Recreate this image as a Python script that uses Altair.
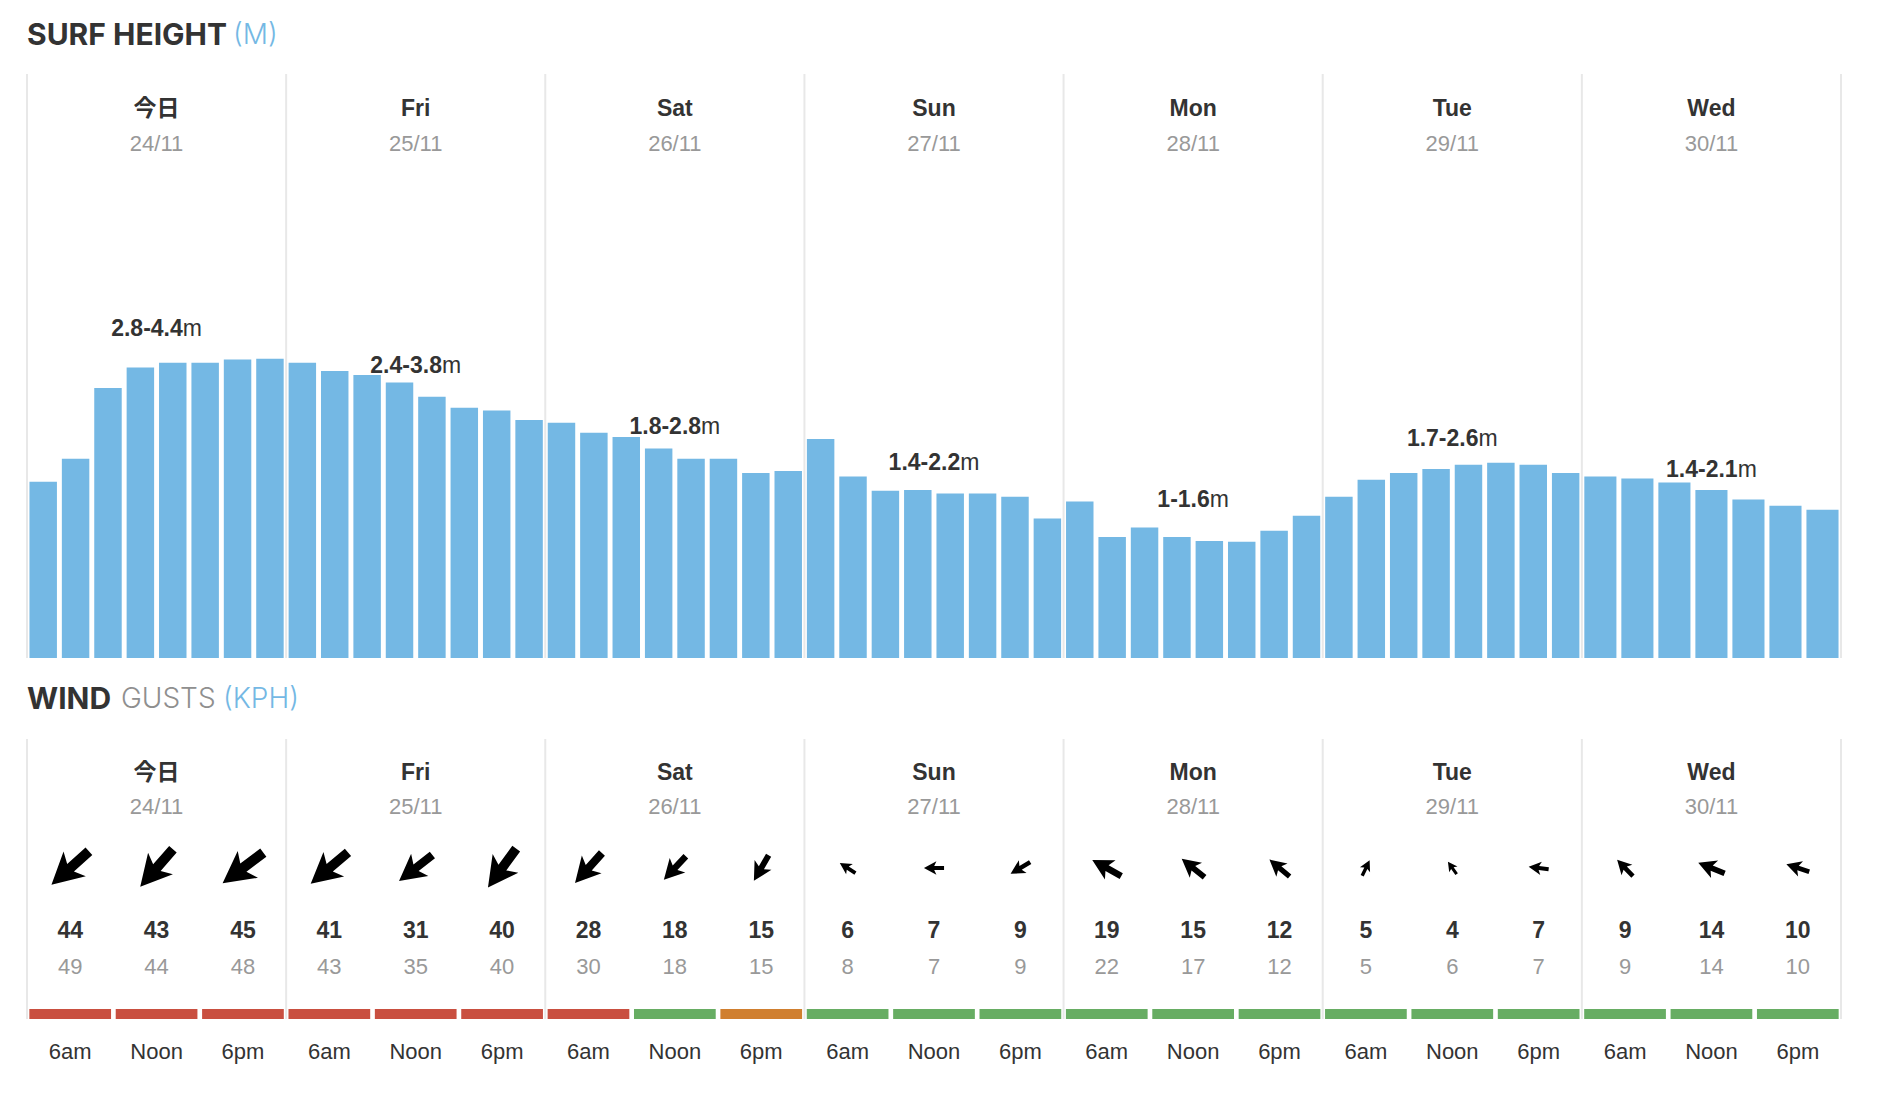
import altair as alt
import pandas as pd

# ---------------- data ----------------
days = ["今日", "Fri", "Sat", "Sun", "Mon", "Tue", "Wed"]
dates = ["24/11", "25/11", "26/11", "27/11", "28/11", "29/11", "30/11"]

# surf height bars (m), 3-hourly, per day
surf_today = [2.59, 2.93, 3.97, 4.27, 4.34, 4.34, 4.39, 4.40]
surf_fri = [4.34, 4.22, 4.16, 4.05, 3.84, 3.68, 3.64, 3.50]
surf_sat = [3.46, 3.31, 3.25, 3.08, 2.93, 2.93, 2.72, 2.75]
surf_sun = [3.22, 2.67, 2.46, 2.47, 2.42, 2.42, 2.37, 2.05]
surf_mon = [2.30, 1.78, 1.92, 1.78, 1.72, 1.71, 1.87, 2.09]
surf_tue = [2.37, 2.62, 2.72, 2.78, 2.84, 2.87, 2.84, 2.72]
surf_wed = [2.67, 2.64, 2.58, 2.47, 2.33, 2.24, 2.18]
surf = [surf_today, surf_fri, surf_sat, surf_sun, surf_mon, surf_tue, surf_wed]

range_lo = [2.8, 2.4, 1.8, 1.4, 1.0, 1.7, 1.4]
range_hi = [4.4, 3.8, 2.8, 2.2, 1.6, 2.6, 2.1]

times = ["6am", "Noon", "6pm"]
wind_speed = [[44, 43, 45], [41, 31, 40], [28, 18, 15], [6, 7, 9],
              [19, 15, 12], [5, 4, 7], [9, 14, 10]]
wind_gust = [[49, 44, 48], [43, 35, 40], [30, 18, 15], [8, 7, 9],
             [22, 17, 12], [5, 6, 7], [9, 14, 10]]
# direction the arrow points to (degrees clockwise from north)
wind_dir = [[228, 221, 233], [230, 232, 216], [222, 223, 210], [303, 270, 239],
            [299, 309, 310], [26, 325, 277], [316, 292, 288]]
wind_rating = [["poor", "poor", "poor"], ["poor", "poor", "poor"],
               ["poor", "good", "fair"], ["good", "good", "good"],
               ["good", "good", "good"], ["good", "good", "good"],
               ["good", "good", "good"]]

# ---------------- tables ----------------
DAYW = 1814 / 7.0
LFS = 23
bar_rows = []
for d, vals in enumerate(surf):
    n = len(vals)
    for k, v in enumerate(vals):
        bar_rows.append({"day": d, "slot": k, "n": n, "h": v})
bars_df = pd.DataFrame(bar_rows)

def fmt(v):
    return f"{v:g}"

lab_rows = []
for d in range(7):
    s = fmt(range_lo[d]) + "-" + fmt(range_hi[d])
    nd = sum(c.isdigit() for c in s)
    ndot = s.count(".")
    wb = LFS * (0.556 * nd + 0.278 * ndot + 0.333)
    wm = LFS * 0.833
    lab_rows.append({"day": d, "rng": s, "hi": range_hi[d],
                     "off": (wb - wm) / 2.0 / DAYW})
lab_df = pd.DataFrame(lab_rows)

day_df = pd.DataFrame({"day": list(range(7)), "name": days, "date": dates})
sep_df = pd.DataFrame({"sep": list(range(8))})

wind_rows = []
for d in range(7):
    for k in range(3):
        wind_rows.append({"day": d, "slot": k, "time": times[k],
                          "speed": wind_speed[d][k], "gust": wind_gust[d][k],
                          "dir": wind_dir[d][k], "rating": wind_rating[d][k]})
wind_df = pd.DataFrame(wind_rows)

# ---------------- styles ----------------
DARK = "#333333"
GRAY = "#999999"
BLUE = "#74b8e4"
SEP = "#e8e8e8"
FONT = "Liberation Sans, Noto Sans CJK JP, sans-serif"
TFONT = "Inter, Noto Sans, sans-serif"

xs = alt.Scale(domain=[0, 7], nice=False, zero=False)
ys = alt.Scale(domain=[0, 4.4], range=[650, 650 - 299.3], nice=False, zero=False)

def X(field):
    return alt.X(field, type="quantitative", scale=xs, axis=None)

# titles
def title_text(txt, x, y, color, weight, size):
    return alt.Chart(pd.DataFrame({"t": [txt]})).mark_text(
        align="left", baseline="middle", font=TFONT, fontSize=size,
        fontWeight=weight, color=color
    ).encode(x=alt.value(x), y=alt.value(y), text="t:N")

titles = [
    title_text("SURF HEIGHT", 0, 28, DARK, 700, 30),
    title_text("(M)", 206, 28, BLUE, 300, 28),
    title_text("WIND", 0, 692, DARK, 700, 30),
    title_text("GUSTS", 94, 692, "#8f8f8f", 300, 28),
    title_text("(KPH)", 196, 692, BLUE, 300, 28),
]

# separators
sep_surf = alt.Chart(sep_df).mark_rule(color=SEP, strokeWidth=2).encode(
    x=X("sep"), y=alt.value(66), y2=alt.value(650))
sep_wind = alt.Chart(sep_df).mark_rule(color=SEP, strokeWidth=2).encode(
    x=X("sep"), y=alt.value(731), y2=alt.value(1011))

# day headers
def headers(y_name, y_date):
    c = alt.Chart(day_df).transform_calculate(xc="datum.day + 0.5")
    n = c.mark_text(font=FONT, fontSize=23, fontWeight="bold", color=DARK,
                    baseline="middle").encode(x=X("xc"), y=alt.value(y_name), text="name:N")
    dt = c.mark_text(font=FONT, fontSize=22, color=GRAY,
                     baseline="middle").encode(x=X("xc"), y=alt.value(y_date), text="date:N")
    return [n, dt]

# surf bars
bars = alt.Chart(bars_df).transform_calculate(
    x1="datum.day + datum.slot / datum.n + 0.0095",
    x2="datum.day + (datum.slot + 1) / datum.n - 0.0095",
).mark_rect(color=BLUE).encode(
    x=X("x1"), x2="x2:Q",
    y=alt.Y("h:Q", scale=ys, axis=None), y2=alt.datum(0))

# range labels
labc = alt.Chart(lab_df).transform_calculate(
    lx="datum.day + 0.5 + datum.off",
    ly="0.88 + 0.9 * datum.hi",
)
lab_bold = labc.mark_text(font=FONT, fontSize=LFS, fontWeight="bold", color=DARK,
                          align="right", baseline="middle").encode(
    x=X("lx"), y=alt.Y("ly:Q", scale=ys, axis=None), text="rng:N")
lab_m = labc.mark_text(font=FONT, fontSize=LFS, color=DARK,
                       align="left", baseline="middle").encode(
    x=X("lx"), y=alt.Y("ly:Q", scale=ys, axis=None), text=alt.value("m"))

# wind
ARROW = "M0,-1L0.66,0.24L0.2,0.02L0.2,1L-0.2,1L-0.2,0.02L-0.66,0.24Z"
wc = alt.Chart(wind_df).transform_calculate(
    xc="datum.day + (datum.slot + 0.5) / 3",
    xa="datum.day + datum.slot / 3 + 0.009",
    xb="datum.day + (datum.slot + 1) / 3 - 0.009",
)
arrows = wc.mark_point(shape=ARROW, filled=True, color="#000000", opacity=1,
                       strokeWidth=0).encode(
    x=X("xc"), y=alt.value(860),
    angle=alt.Angle("dir:Q", scale=None),
    size=alt.Size("speed:Q", scale=alt.Scale(domain=[0, 45], range=[0, 2600]), legend=None))
speed_t = wc.mark_text(font=FONT, fontSize=23, fontWeight="bold", color=DARK,
                       baseline="middle").encode(x=X("xc"), y=alt.value(923), text="speed:Q")
gust_t = wc.mark_text(font=FONT, fontSize=22, color=GRAY,
                      baseline="middle").encode(x=X("xc"), y=alt.value(959), text="gust:Q")
rating_r = wc.mark_rect().encode(
    x=X("xa"), x2="xb:Q", y=alt.value(1001), y2=alt.value(1011),
    color=alt.Color("rating:N", scale=alt.Scale(domain=["poor", "good", "fair"],
                                                range=["#c94f40", "#67ad63", "#d07f2f"]),
                    legend=None))
time_t = wc.mark_text(font=FONT, fontSize=22, color=DARK,
                      baseline="middle").encode(x=X("xc"), y=alt.value(1044), text="time:N")

layers = ([sep_surf, sep_wind, bars] + titles + headers(101, 136) + headers(765, 799)
          + [lab_bold, lab_m, arrows, speed_t, gust_t, rating_r, time_t])

chart = alt.layer(*layers).properties(
    width=1814, height=1070,
    padding={"left": 18, "top": 0, "right": 10, "bottom": 10},
    background="#ffffff",
).configure_view(stroke=None)

chart.save("out.html", embed_options={"renderer": "svg", "actions": False})
